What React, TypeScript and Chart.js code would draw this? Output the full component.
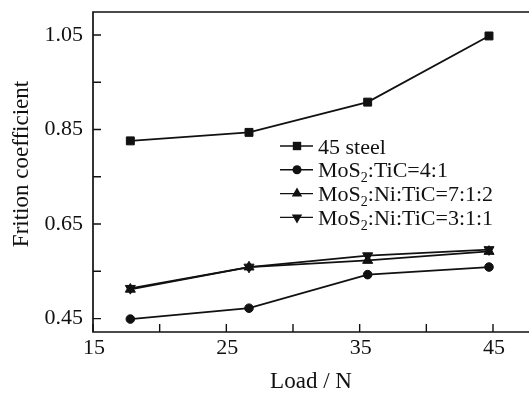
import React, { useEffect, useRef } from "react";
import { Chart, registerables } from "chart.js";

Chart.register(...registerables);

const loads = [17.8, 26.7, 35.6, 44.7];
const steel45 = [0.826, 0.844, 0.908, 1.048];
const mosTic41 = [0.449, 0.472, 0.543, 0.559];
const mosNiTic712 = [0.512, 0.559, 0.573, 0.592];
const mosNiTic311 = [0.514, 0.559, 0.583, 0.596];

const seriesLabels = ["45 steel", "MoS₂:TiC=4:1", "MoS₂:Ni:TiC=7:1:2", "MoS₂:Ni:TiC=3:1:1"];
const seriesMarkers = ["rect", "circle", "triangle", "triangleDown"];

const xTickValues = [15, 20, 25, 30, 35, 40, 45];
const xTickLabels = ["15", "", "25", "", "35", "", "45"];
const yTickValues = [0.45, 0.55, 0.65, 0.75, 0.85, 0.95, 1.05];
const yTickLabels = ["0.45", "", "0.65", "", "0.85", "", "1.05"];

const xTitle = "Load / N";
const yTitle = "Frition coefficient";

const INK = "#111";
const FONT_FAMILY = '"Liberation Serif", "Times New Roman", serif';
const FONT_SIZE = 22;

function drawMarker(ctx: CanvasRenderingContext2D, kind: string, cx: number, cy: number) {
  ctx.beginPath();
  if (kind === "rect") {
    ctx.rect(cx - 4.2, cy - 4.2, 8.4, 8.4);
  } else if (kind === "circle") {
    ctx.arc(cx, cy, 4.5, 0, Math.PI * 2);
  } else {
    const r = 6;
    const s = kind === "triangle" ? 1 : -1;
    ctx.moveTo(cx, cy - s * r);
    ctx.lineTo(cx + r * 0.866, cy + s * r * 0.5);
    ctx.lineTo(cx - r * 0.866, cy + s * r * 0.5);
    ctx.closePath();
  }
  ctx.fill();
}

function drawRich(ctx: CanvasRenderingContext2D, text: string, x: number, y: number) {
  const parts = text.split("₂");
  let cx = x;
  parts.forEach((p, i) => {
    ctx.font = `${FONT_SIZE}px ${FONT_FAMILY}`;
    ctx.fillText(p, cx, y);
    cx += ctx.measureText(p).width;
    if (i < parts.length - 1) {
      ctx.font = `${Math.round(FONT_SIZE * 0.62)}px ${FONT_FAMILY}`;
      ctx.fillText("2", cx, y + 5);
      cx += ctx.measureText("2").width;
    }
  });
}

const framePlugin = {
  id: "framePlugin",
  afterDraw(chart: any) {
    const { ctx, chartArea, scales } = chart;
    const { left, top, right, bottom } = chartArea;
    ctx.save();
    ctx.strokeStyle = INK;
    ctx.lineWidth = 1.7;
    ctx.beginPath();
    ctx.moveTo(right + 2, top);
    ctx.lineTo(left, top);
    ctx.lineTo(left, bottom);
    ctx.lineTo(right + 2, bottom);
    ctx.stroke();
    ctx.lineWidth = 1.4;
    ctx.beginPath();
    xTickValues.forEach((v) => {
      const px = scales.x.getPixelForValue(v);
      ctx.moveTo(px, bottom);
      ctx.lineTo(px, bottom - 8);
    });
    yTickValues.forEach((v) => {
      const py = scales.y.getPixelForValue(v);
      ctx.moveTo(left, py);
      ctx.lineTo(left + 8, py);
    });
    ctx.stroke();

    // tick labels
    ctx.fillStyle = INK;
    ctx.font = `${FONT_SIZE}px ${FONT_FAMILY}`;
    ctx.textAlign = "center";
    ctx.textBaseline = "middle";
    xTickValues.forEach((v, i) => {
      if (!xTickLabels[i]) return;
      ctx.fillText(xTickLabels[i], scales.x.getPixelForValue(v) + 1, bottom + 16);
    });
    ctx.textAlign = "right";
    yTickValues.forEach((v, i) => {
      if (!yTickLabels[i]) return;
      ctx.fillText(yTickLabels[i], left - 10, scales.y.getPixelForValue(v));
    });

    // axis titles
    ctx.font = `${FONT_SIZE + 1}px ${FONT_FAMILY}`;
    ctx.textAlign = "center";
    ctx.fillText(xTitle, 311, chart.height - 12);
    ctx.save();
    ctx.translate(22, (top + bottom) / 2 - 8);
    ctx.rotate(-Math.PI / 2);
    ctx.fillText(yTitle, 0, 0);
    ctx.restore();

    // legend
    const lx = left + 187;
    const ly = top + 134;
    const rowH = 23.8;
    ctx.textAlign = "left";
    ctx.textBaseline = "alphabetic";
    seriesLabels.forEach((label, i) => {
      const y = ly + i * rowH;
      ctx.strokeStyle = INK;
      ctx.lineWidth = 1.4;
      ctx.beginPath();
      ctx.moveTo(lx, y);
      ctx.lineTo(lx + 33, y);
      ctx.stroke();
      ctx.fillStyle = INK;
      drawMarker(ctx, seriesMarkers[i], lx + 17, y);
      drawRich(ctx, label, lx + 38, y + 7.5);
    });
    ctx.restore();
  },
};

function makeDataset(label: string, values: number[], style: string, radius: number, rotation = 0) {
  return {
    label,
    data: loads.map((x, i) => ({ x, y: values[i] })),
    borderColor: INK,
    backgroundColor: INK,
    borderWidth: 1.8,
    pointStyle: style,
    pointRadius: radius,
    pointRotation: rotation,
    pointBorderWidth: 1,
    pointBorderColor: INK,
    pointBackgroundColor: INK,
    tension: 0,
    clip: false,
  };
}

export default function App() {
  const ref = useRef<HTMLCanvasElement>(null);
  useEffect(() => {
    if (!ref.current) return;
    const chart = new Chart(ref.current, {
      type: "line",
      data: {
        datasets: [
          makeDataset(seriesLabels[0], steel45, "rect", 5.6),
          makeDataset(seriesLabels[1], mosTic41, "circle", 4.3),
          makeDataset(seriesLabels[2], mosNiTic712, "triangle", 5.8),
          makeDataset(seriesLabels[3], mosNiTic311, "triangle", 5.8, 180),
        ],
      },
      options: {
        responsive: false,
        animation: false,
        layout: { autoPadding: false, padding: { top: 12, right: 0, left: 0, bottom: 0 } },
        plugins: { legend: { display: false }, tooltip: { enabled: false } },
        scales: {
          x: {
            type: "linear",
            min: 15,
            max: 47.7,
            grid: { display: false },
            border: { display: false },
            ticks: { display: false },
            afterFit: (s: any) => {
              s.height = 62;
            },
            afterBuildTicks: (s: any) => {
              s.ticks = xTickValues.map((v) => ({ value: v }));
            },
          },
          y: {
            type: "linear",
            min: 0.4216,
            max: 1.0987,
            grid: { display: false },
            border: { display: false },
            ticks: { display: false },
            afterFit: (s: any) => {
              s.width = 93;
            },
            afterBuildTicks: (s: any) => {
              s.ticks = yTickValues.map((v) => ({ value: v }));
            },
          },
        },
      },
      plugins: [framePlugin],
    } as any);
    return () => chart.destroy();
  }, []);
  return (
    <div style={{ position: "fixed", left: 0, top: 0, width: 529, height: 394, background: "#fff" }}>
      <canvas ref={ref} width={529} height={394} style={{ width: 529, height: 394, display: "block" }} />
    </div>
  );
}
